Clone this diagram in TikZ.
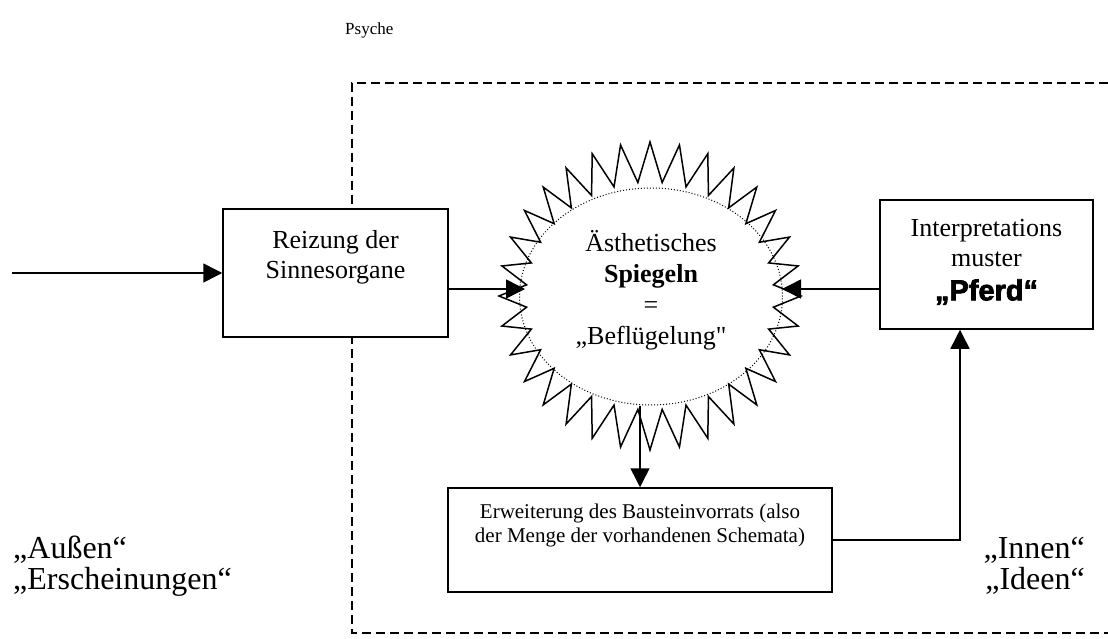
\documentclass[tikz,border=0pt]{standalone}
\usepackage{fontspec}
\setmainfont{Liberation Serif}
\newfontfamily\straight{Liberation Serif}[Ligatures=TeXOff]
\newfontfamily\heavy{Liberation Sans}[BoldFeatures={FakeBold=2.5}]
\usetikzlibrary{arrows.meta,shapes.geometric}

\begin{document}
\begin{tikzpicture}[x=1pt,y=-1pt,
  wire/.style={line width=1.5pt, -{Triangle[length=19pt,width=19pt]}},
  box/.style={draw, line width=1.5pt, fill=white, rectangle, inner sep=0pt},
  txt/.style={inner sep=0pt, align=center, font=\fontsize{26}{30}\selectfont},
  big/.style={inner sep=0pt, font=\fontsize{32}{36}\selectfont},
]
\useasboundingbox (0,0) rectangle (1108,639);

% title
\node[inner sep=0pt, anchor=base west, font=\fontsize{17}{20}\selectfont] (psyche) at (345,35) {Psyche};

% dashed frame of the inner region (open to the right)
\draw[line width=1.5pt, dash pattern=on 9pt off 5pt] (1108,83) -- (352,83) -- (352,633) -- (1108,633);

% 32-point star around the mirror ellipse
\draw[line width=1.5pt, line join=miter, fill=white]
  (650,142) \foreach \k in {1,...,63}{
    -- ({650+(137.5+13.5*cos(180*\k))*cos(90+5.625*\k)},
        {296-(134+20*cos(180*\k))*sin(90+5.625*\k)})
  } -- cycle;
\node[ellipse, draw, dotted, line width=1pt, minimum width=263pt, minimum height=217pt, inner sep=0pt] (mirror) at (651,296.5) {};
\node[txt, font=\fontsize{26}{31}\selectfont] (mirrortext) at (651,290)
  {Ästhetisches\\\textbf{Spiegeln}\\=\\„Beflügelung{\straight"}};

% boxes
\node[box, minimum width=225pt, minimum height=128pt] (reiz) at (335.5,273) {};
\node[txt] (reiztext) at (335.5,257) {Reizung der\\Sinnesorgane};

\node[box, minimum width=213pt, minimum height=129pt] (pferd) at (986.5,264.5) {};
\node[txt] (pferdtext) at (986.5,262)
  {Interpretations\\muster\\[4pt]{\heavy\bfseries\fontsize{29}{30}\selectfont „Pferd“}};

\node[box, minimum width=384pt, minimum height=104pt] (ext) at (640,540) {};
\node[txt, font=\fontsize{21}{24}\selectfont] (exttext) at (640,525)
  {Erweiterung des Bausteinvorrats (also\\der Menge der vorhandenen Schemata)};

% side labels
\node[big, anchor=base west] (aussen) at (13,558) {„Außen“};
\node[big, anchor=base west] (ersch) at (13,589) {„Erscheinungen“};
\node[big, anchor=base east] (innen) at (1085,558) {„Innen“};
\node[big, anchor=base east] (ideen) at (1085,589) {„Ideen“};

% connectors
\coordinate (src) at (12,273);
\coordinate (axis) at (0,289);
\coordinate (bend) at (960,0);
\draw[wire] (src) -- (reiz.west);
\draw[wire] (reiz.east |- axis) -- ([xshift=6pt]mirror.west |- axis);
\draw[wire] (pferd.west |- axis) -- ([xshift=-1pt]mirror.east |- axis);
\draw[wire] (mirror.south -| ext.north) -- (ext.north);
\draw[wire] (ext.east) -| (bend |- pferd.south);
\end{tikzpicture}
\end{document}
